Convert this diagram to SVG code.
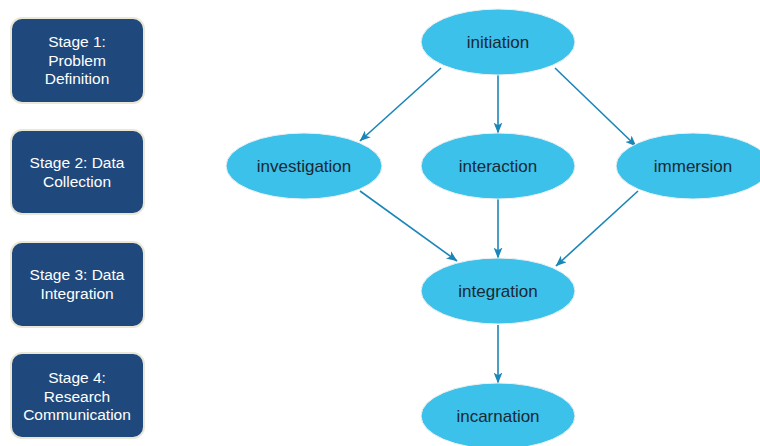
<svg xmlns="http://www.w3.org/2000/svg" width="760" height="446" viewBox="0 0 760 446">
<defs>
<style>
.stage rect{fill:#1f497d;stroke:#ebe7d6;stroke-width:2}
.stage text{fill:#ffffff;font-family:"Liberation Sans",Arial,sans-serif;font-size:15.5px;text-anchor:middle}
.node ellipse{fill:#3bc1ea;stroke:#f0f0f0;stroke-width:1}
.node text{fill:#1c2833;font-family:"Liberation Sans",Arial,sans-serif;font-size:17px;text-anchor:middle}
.edges line{stroke:#1a86b8;stroke-width:1.6;marker-end:url(#arr)}
</style>
<marker id="arr" viewBox="0 0 10 8" refX="9.5" refY="4" markerWidth="11" markerHeight="9" markerUnits="userSpaceOnUse" orient="auto">
<path d="M0,0 L10,4 L0,8 L2.5,4 z" fill="#1a86b8"/>
</marker>
</defs>
<rect width="760" height="446" fill="#ffffff"/>
<g id="stage1" class="stage"><rect x="11" y="18" width="133" height="85" rx="11"/><text x="77" y="47">Stage 1:</text><text x="77" y="66">Problem</text><text x="77" y="84">Definition</text></g>
<g id="stage2" class="stage"><rect x="11" y="130" width="133" height="84" rx="11"/><text x="77" y="168">Stage 2: Data</text><text x="77" y="187">Collection</text></g>
<g id="stage3" class="stage"><rect x="11" y="242" width="133" height="85" rx="11"/><text x="77" y="280">Stage 3: Data</text><text x="77" y="299">Integration</text></g>
<g id="stage4" class="stage"><rect x="11" y="353" width="133" height="85" rx="11"/><text x="77" y="383">Stage 4:</text><text x="77" y="402">Research</text><text x="77" y="420">Communication</text></g>
<g id="edges" class="edges">
<line x1="441" y1="68" x2="360" y2="141"/>
<line x1="498" y1="75" x2="498" y2="133"/>
<line x1="555" y1="68" x2="636" y2="146"/>
<line x1="360" y1="191" x2="457" y2="261"/>
<line x1="498" y1="199" x2="498" y2="258"/>
<line x1="638" y1="191" x2="556" y2="266"/>
<line x1="498" y1="325" x2="498" y2="383"/>
</g>
<g id="initiation" class="node"><ellipse cx="498" cy="42" rx="77" ry="33"/><text x="498" y="48">initiation</text></g>
<g id="investigation" class="node"><ellipse cx="304" cy="166" rx="78" ry="33"/><text x="304" y="172">investigation</text></g>
<g id="interaction" class="node"><ellipse cx="498" cy="166" rx="77" ry="33"/><text x="498" y="172">interaction</text></g>
<g id="immersion" class="node"><ellipse cx="693" cy="166" rx="77" ry="33"/><text x="693" y="172">immersion</text></g>
<g id="integration" class="node"><ellipse cx="498" cy="291" rx="77" ry="33"/><text x="498" y="297">integration</text></g>
<g id="incarnation" class="node"><ellipse cx="498" cy="416" rx="77" ry="33"/><text x="498" y="422">incarnation</text></g>
</svg>
